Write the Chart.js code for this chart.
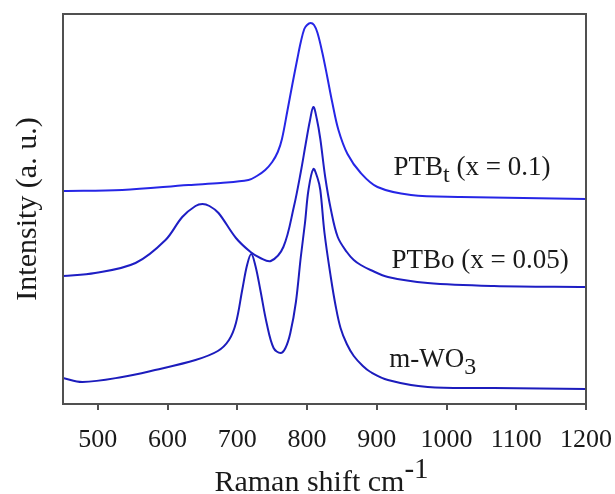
<!DOCTYPE html>
<html>
<head>
<meta charset="utf-8">
<script src="https://cdn.jsdelivr.net/npm/chart.js@4"></script>
<style>
  html, body { margin: 0; padding: 0; background: #fff; }
  #wrap { width: 615px; height: 494px; }
</style>
</head>
<body>
<div id="wrap"><canvas id="raman"></canvas></div>
<script>
// Raman spectra, intensity in arbitrary units (curves offset vertically)
const ptbtShift = [450, 535, 630, 676, 716, 728, 740, 750, 758, 764, 772, 779, 786, 791, 796, 800, 805, 810, 815, 822, 829, 836, 845, 858, 877, 901, 949, 1020, 1200];
const ptbtIntensity = [213, 214, 219, 221, 224, 228, 234, 242, 252, 265, 294, 320, 345, 362, 375, 379, 381, 379, 371, 351, 327, 302, 274, 250, 231, 217, 209, 207, 205];

const ptboShift = [450, 496, 554, 597, 621, 640, 650, 660, 673, 698, 719, 733, 748, 766, 781, 791, 798, 804, 809, 814, 819, 826, 834, 844, 857, 867, 877, 891, 916, 973, 1068, 1200];
const ptboIntensity = [128, 131, 141, 164, 187, 198, 200, 198, 191, 166, 152, 146, 143, 157, 197, 232, 260, 283, 297, 285, 265, 227, 195, 167, 152, 144, 139, 134, 127, 121, 118, 117];

const wo3Shift = [450, 478, 535, 582, 640, 672, 688, 698, 707, 714, 720, 726, 733, 742, 752, 762, 769, 776, 784, 791, 797, 802, 809, 815, 819, 825, 834, 841, 848, 857, 867, 880, 891, 916, 973, 1068, 1200];
const wo3Intensity = [26, 22, 27, 34, 44, 53, 64, 81, 114, 139, 150, 138, 114, 81, 56, 51, 56, 71, 102, 147, 181, 214, 235, 226, 214, 171, 127, 98, 76, 60, 48, 38, 32, 24, 17, 16, 15];

const xTickValues = [500, 600, 700, 800, 900, 1000, 1100, 1200];

// sample names: [main text, subscript, trailing text]
const sampleNames = [
  ['PTB', 't', ' (x = 0.1)'],
  ['PTBo (x = 0.05)', '', ''],
  ['m-WO', '3', '']
];
const nameShift = [924, 921, 918];
const nameIntensity = [229, 136, 37];

const serif = '"Liberation Serif", "Times New Roman", serif';
const ink = '#1a1a1a';
const frameColor = '#505050';

function toPoints(xs, ys) {
  return xs.map((x, i) => ({ x: x, y: ys[i] }));
}

function line(xs, ys, color) {
  return {
    data: toPoints(xs, ys),
    borderColor: color,
    borderWidth: 2,
    pointRadius: 0,
    fill: false,
    tension: 0.35
  };
}

// draw text with an optional sub/superscript part
function richText(ctx, x, y, parts, size) {
  let cx = x;
  parts.forEach(p => {
    if (!p.text) return;
    ctx.font = (p.size || size) + 'px ' + serif;
    ctx.fillText(p.text, cx, y + (p.dy || 0));
    cx += ctx.measureText(p.text).width;
  });
  return cx;
}

function richWidth(ctx, parts, size) {
  let w = 0;
  parts.forEach(p => {
    if (!p.text) return;
    ctx.font = (p.size || size) + 'px ' + serif;
    w += ctx.measureText(p.text).width;
  });
  return w;
}

const decorations = {
  id: 'decorations',
  afterDraw(chart) {
    const ctx = chart.ctx;
    const a = chart.chartArea;
    const xs = chart.scales.x, ys = chart.scales.y;
    ctx.save();

    // frame around the plot
    ctx.strokeStyle = frameColor;
    ctx.lineWidth = 2;
    ctx.strokeRect(a.left, a.top, a.right - a.left, a.bottom - a.top);

    ctx.fillStyle = ink;
    ctx.textBaseline = 'alphabetic';
    ctx.textAlign = 'left';

    // sample names next to each curve
    sampleNames.forEach((n, i) => {
      const px = xs.getPixelForValue(nameShift[i]);
      const py = ys.getPixelForValue(nameIntensity[i]);
      richText(ctx, px, py, [
        { text: n[0] },
        { text: n[1], size: 24, dy: 7 },
        { text: n[2] }
      ], 27);
    });

    // x axis title with superscript
    const xt = [{ text: 'Raman shift cm' }, { text: '-1', dy: -13, size: 29 }];
    const w = richWidth(ctx, xt, 30);
    richText(ctx, (a.left + a.right) / 2 - w / 2 - 3, 491, xt, 30);

    // y axis title
    ctx.translate(28, (a.top + a.bottom) / 2);
    ctx.rotate(-Math.PI / 2);
    ctx.font = '30px ' + serif;
    ctx.textAlign = 'center';
    ctx.textBaseline = 'middle';
    ctx.fillText('Intensity (a. u.)', 0, 0);

    ctx.restore();
  }
};

new Chart(document.getElementById('raman'), {
  type: 'line',
  data: {
    datasets: [
      line(ptbtShift, ptbtIntensity, '#2626e6'),
      line(ptboShift, ptboIntensity, '#1e1ec4'),
      line(wo3Shift, wo3Intensity, '#1c1cbc')
    ]
  },
  options: {
    responsive: true,
    maintainAspectRatio: false,
    animation: false,
    layout: { padding: { left: 63, right: 29, top: 14, bottom: 0 } },
    plugins: {
      legend: { display: false },
      tooltip: { enabled: false }
    },
    scales: {
      x: {
        type: 'linear',
        min: 450,
        max: 1200,
        afterBuildTicks: s => { s.ticks = xTickValues.map(v => ({ value: v })); },
        afterFit: s => {
          s.height = 90;
          // labels fit inside the layout padding, no extra room needed
          s.paddingLeft = 0;
          s.paddingRight = 0;
        },
        grid: {
          drawOnChartArea: false,
          drawTicks: true,
          tickLength: 6,
          color: frameColor,
          lineWidth: 2
        },
        border: { display: false },
        ticks: {
          color: ink,
          padding: 15,
          maxRotation: 0,
          autoSkip: false,
          font: { family: serif, size: 26 },
          callback: v => String(v)
        }
      },
      y: {
        display: false,
        min: 0,
        max: 390
      }
    }
  },
  plugins: [decorations]
});
</script>
</body>
</html>
